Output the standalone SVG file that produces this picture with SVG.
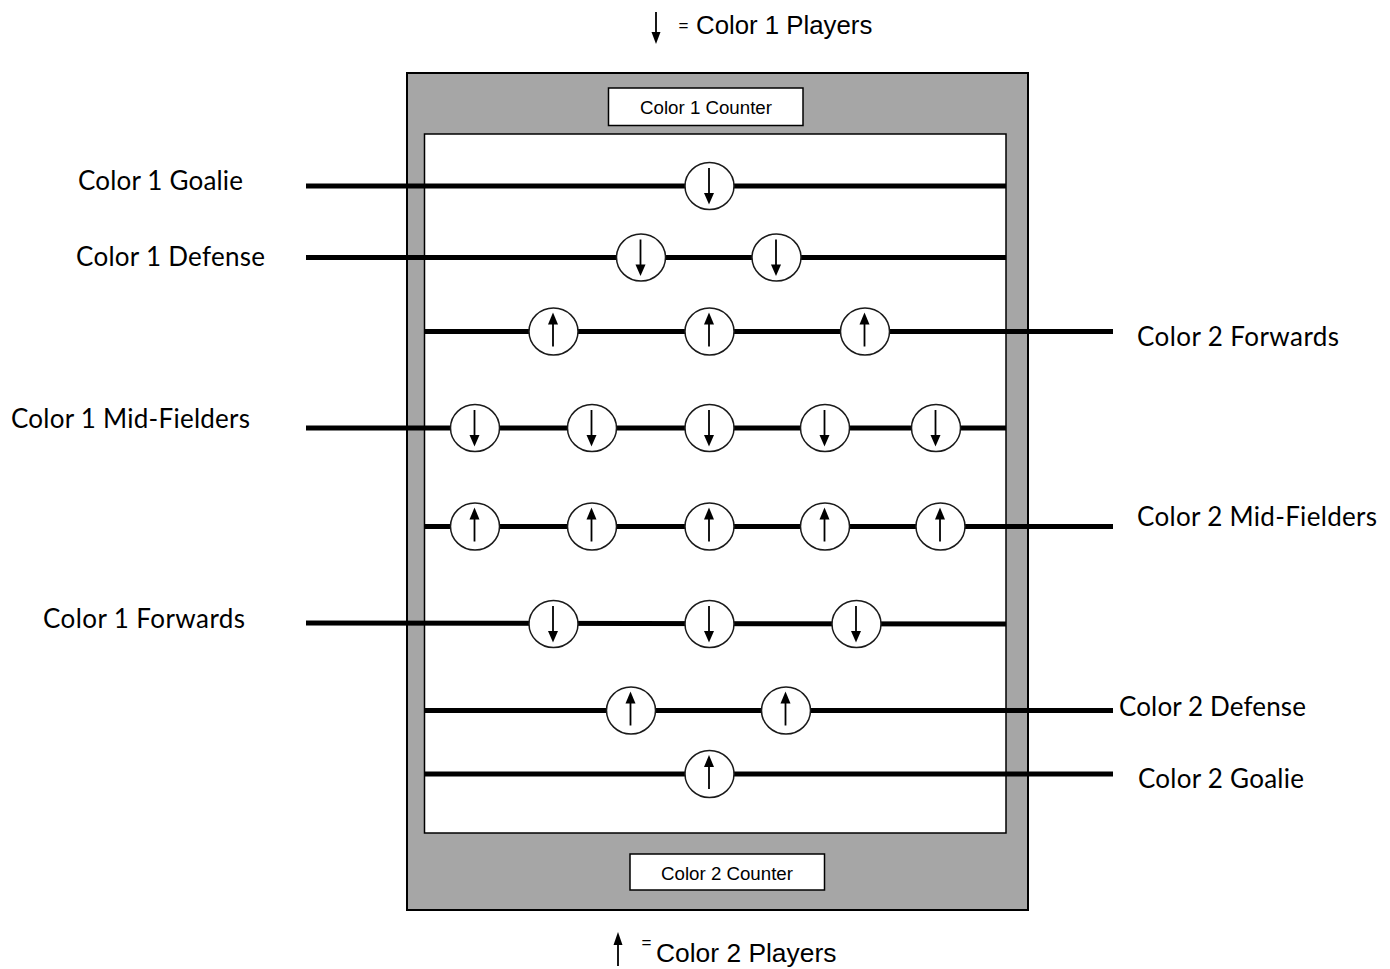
<svg xmlns="http://www.w3.org/2000/svg" xmlns:xlink="http://www.w3.org/1999/xlink" width="1390" height="969" viewBox="0 0 1390 969">
<style>
.lbl{font-family:Lato,"Open Sans","Noto Sans",sans-serif;font-size:26px;fill:#000}
.arial{font-family:"Liberation Sans",Arial,sans-serif;fill:#000}
.rod{stroke:#000;stroke-width:5;fill:none}
.ball{fill:#fff;stroke:#1a1a1a;stroke-width:1.5}
.shaft{stroke:#000;stroke-width:1.8;fill:none}
.head{fill:#000}
</style>
<defs>
<g id="pdown">
<ellipse class="ball" cx="0" cy="0" rx="24.5" ry="23.5"/>
<line class="shaft" x1="-0.5" y1="-18" x2="-0.5" y2="10"/>
<polygon class="head" points="-5.5,7 4.5,7 -0.5,18.5"/>
</g>
<g id="pup">
<ellipse class="ball" cx="0" cy="0" rx="24.5" ry="23.5"/>
<line class="shaft" x1="-0.5" y1="-9" x2="-0.5" y2="15"/>
<polygon class="head" points="-5.5,-7 4.5,-7 -0.5,-19"/>
</g>
</defs>
<rect width="1390" height="969" fill="#fff"/>

<g id="legend-top">
<line class="shaft" x1="656" y1="12" x2="656" y2="36"/>
<polygon class="head" points="651.5,32 660.5,32 656,44"/>
<text class="arial" x="678.5" y="30.5" font-size="17" fill="#333">=</text>
<text class="arial" x="696" y="34" font-size="25.8">Color 1 Players</text>
</g>

<g id="table">
<rect x="407" y="73" width="621" height="837" fill="#a6a6a6" stroke="#000" stroke-width="2"/>
<rect x="424.5" y="134" width="581.5" height="699" fill="#fff" stroke="#000" stroke-width="1.5"/>
</g>

<g id="counter1">
<rect x="608.5" y="88" width="194.5" height="37.5" fill="#fff" stroke="#000" stroke-width="1.5"/>
<text class="arial" x="706" y="113.5" font-size="18.7" text-anchor="middle">Color 1 Counter</text>
</g>
<g id="counter2">
<rect x="630" y="854" width="194.5" height="36" fill="#fff" stroke="#000" stroke-width="1.5"/>
<text class="arial" x="727" y="879.5" font-size="18.7" text-anchor="middle">Color 2 Counter</text>
</g>

<g id="connectors">
<line class="rod" x1="306" y1="186" x2="1006" y2="186"/>
<line class="rod" x1="306" y1="257.5" x2="1006" y2="257.5"/>
<line class="rod" x1="425" y1="331.5" x2="1113" y2="331.5"/>
<line class="rod" x1="306" y1="428" x2="1006" y2="428"/>
<line class="rod" x1="425" y1="526.5" x2="1113" y2="526.5"/>
<line class="rod" x1="306" y1="623" x2="1006" y2="624"/>
<line class="rod" x1="425" y1="710.5" x2="1113" y2="710.5"/>
<line class="rod" x1="425" y1="774" x2="1113" y2="774"/>
</g>

<g id="c1-goalie"><use xlink:href="#pdown" x="709.5" y="186"/></g>
<g id="c1-defense">
<use xlink:href="#pdown" x="641" y="257.5"/>
<use xlink:href="#pdown" x="776.5" y="257.5"/>
</g>
<g id="c2-forwards">
<use xlink:href="#pup" x="553.5" y="331.5"/>
<use xlink:href="#pup" x="709.5" y="331.5"/>
<use xlink:href="#pup" x="865" y="331.5"/>
</g>
<g id="c1-midfielders">
<use xlink:href="#pdown" x="475" y="428"/>
<use xlink:href="#pdown" x="592" y="428"/>
<use xlink:href="#pdown" x="709.5" y="428"/>
<use xlink:href="#pdown" x="825" y="428"/>
<use xlink:href="#pdown" x="936" y="428"/>
</g>
<g id="c2-midfielders">
<use xlink:href="#pup" x="475" y="526.5"/>
<use xlink:href="#pup" x="592" y="526.5"/>
<use xlink:href="#pup" x="709.5" y="526.5"/>
<use xlink:href="#pup" x="825" y="526.5"/>
<use xlink:href="#pup" x="940.5" y="526.5"/>
</g>
<g id="c1-forwards">
<use xlink:href="#pdown" x="553.5" y="624"/>
<use xlink:href="#pdown" x="709.5" y="624"/>
<use xlink:href="#pdown" x="856.5" y="624"/>
</g>
<g id="c2-defense">
<use xlink:href="#pup" x="631" y="710.5"/>
<use xlink:href="#pup" x="786" y="710.5"/>
</g>
<g id="c2-goalie"><use xlink:href="#pup" x="709.5" y="774"/></g>

<g id="labels">
<text class="lbl" x="78" y="189.5" textLength="165" lengthAdjust="spacing">Color 1 Goalie</text>
<text class="lbl" x="76" y="265.5" textLength="189" lengthAdjust="spacing">Color 1 Defense</text>
<text class="lbl" x="1137" y="345.5" textLength="202" lengthAdjust="spacing">Color 2 Forwards</text>
<text class="lbl" x="11" y="427.5" textLength="239" lengthAdjust="spacing">Color 1 Mid-Fielders</text>
<text class="lbl" x="1137" y="525.5" textLength="240" lengthAdjust="spacing">Color 2 Mid-Fielders</text>
<text class="lbl" x="43" y="627.5" textLength="202" lengthAdjust="spacing">Color 1 Forwards</text>
<text class="lbl" x="1119" y="715.5" textLength="187" lengthAdjust="spacing">Color 2 Defense</text>
<text class="lbl" x="1138" y="787.5" textLength="166" lengthAdjust="spacing">Color 2 Goalie</text>
</g>

<g id="legend-bottom">
<line class="shaft" x1="618" y1="942" x2="618" y2="966"/>
<polygon class="head" points="613.5,945 622.5,945 618,932"/>
<text class="arial" x="641.5" y="948" font-size="17" fill="#333">=</text>
<text class="arial" x="656" y="962" font-size="26.4">Color 2 Players</text>
</g>
</svg>
